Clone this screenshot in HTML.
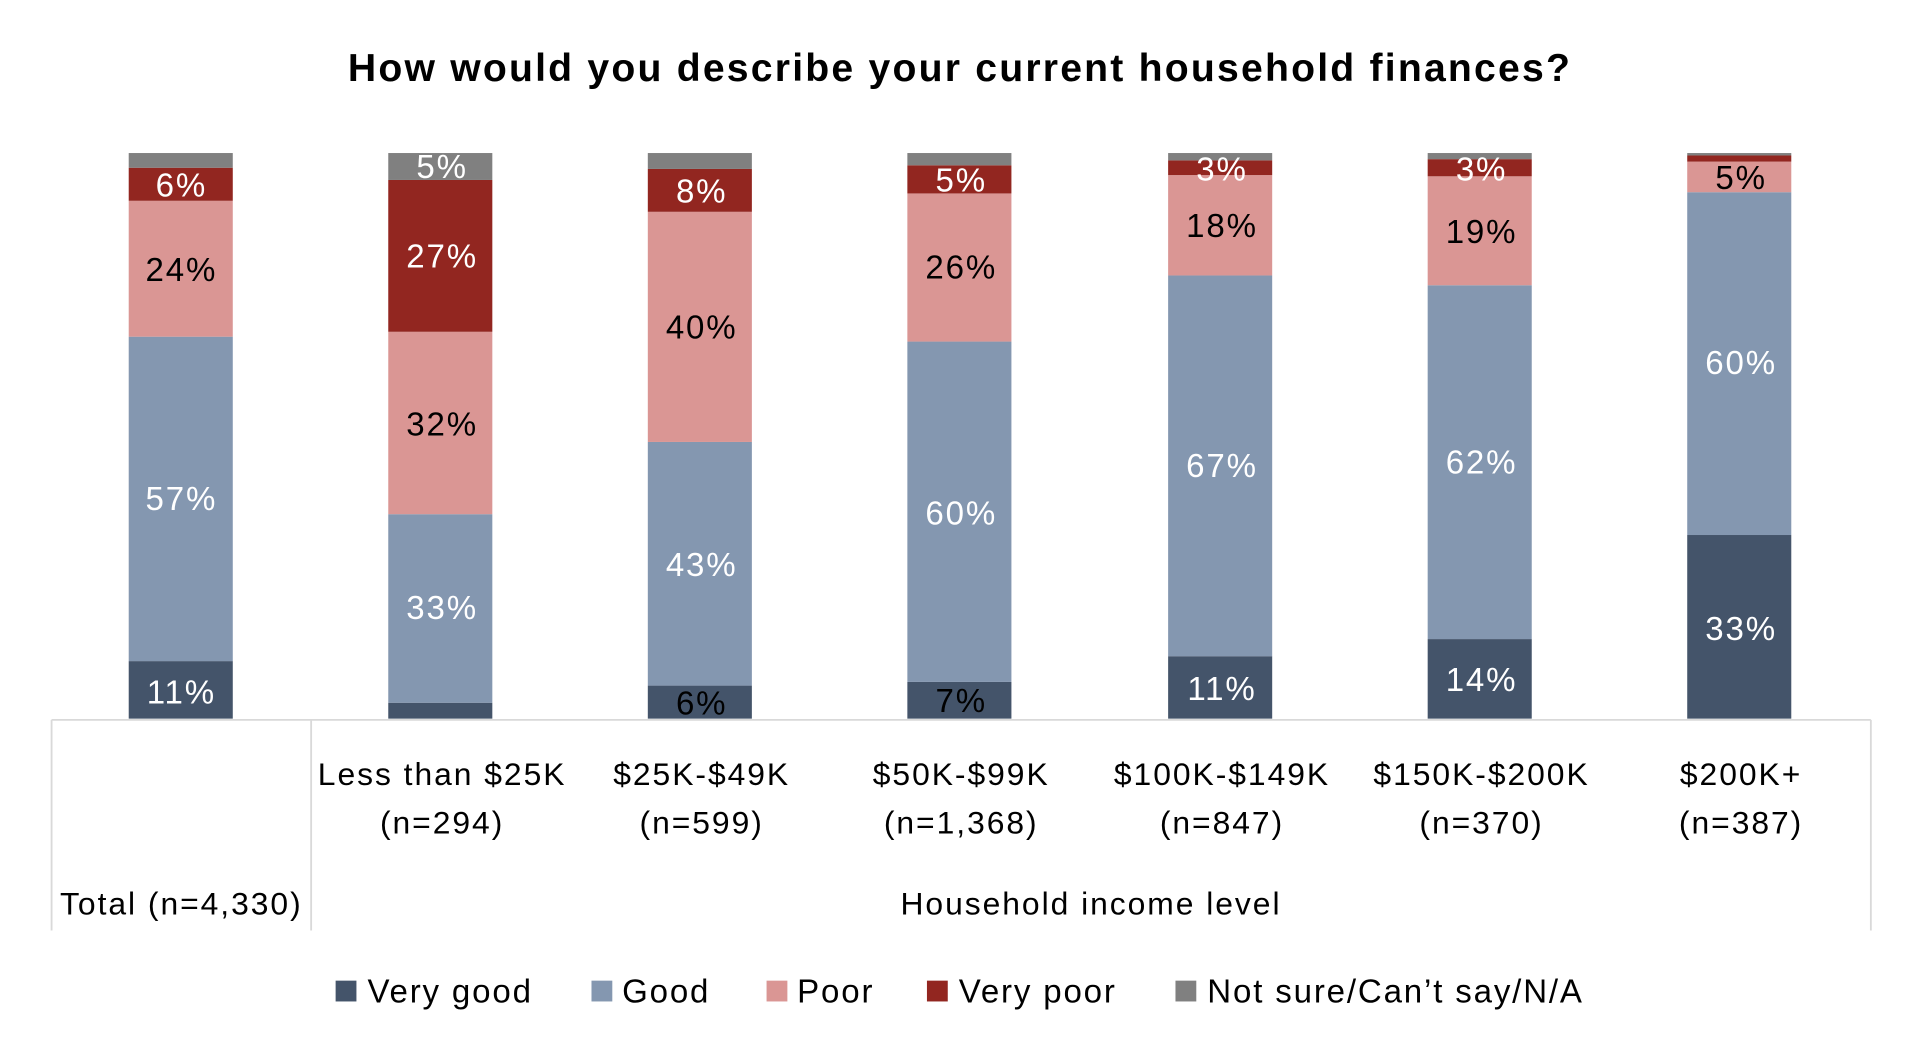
<!DOCTYPE html>
<html><head><meta charset="utf-8"><style>
html,body{margin:0;padding:0;background:#fff;}
svg{display:block;}
text{font-family:"Liberation Sans",sans-serif;}
</style></head><body>
<svg width="1920" height="1059" viewBox="0 0 1568 865" xmlns="http://www.w3.org/2000/svg">
<text x="784" y="66" text-anchor="middle" font-size="32" font-weight="bold" fill="#000" letter-spacing="1.8">How would you describe your current household finances?</text>
<g id="bars">
<rect x="105" y="540" width="85" height="47" fill="#44546A"/><rect x="105" y="275" width="85" height="265" fill="#8497B0"/><rect x="105" y="164" width="85" height="111" fill="#DA9694"/><rect x="105" y="137" width="85" height="27" fill="#922620"/><rect x="105" y="125" width="85" height="12" fill="#808080"/>
<rect x="317" y="574" width="85" height="13" fill="#44546A"/><rect x="317" y="420" width="85" height="154" fill="#8497B0"/><rect x="317" y="271" width="85" height="149" fill="#DA9694"/><rect x="317" y="147" width="85" height="124" fill="#922620"/><rect x="317" y="125" width="85" height="22" fill="#808080"/>
<rect x="529" y="560" width="85" height="27" fill="#44546A"/><rect x="529" y="361" width="85" height="199" fill="#8497B0"/><rect x="529" y="173" width="85" height="188" fill="#DA9694"/><rect x="529" y="138" width="85" height="35" fill="#922620"/><rect x="529" y="125" width="85" height="13" fill="#808080"/>
<rect x="741" y="557" width="85" height="30" fill="#44546A"/><rect x="741" y="279" width="85" height="278" fill="#8497B0"/><rect x="741" y="158" width="85" height="121" fill="#DA9694"/><rect x="741" y="135" width="85" height="23" fill="#922620"/><rect x="741" y="125" width="85" height="10" fill="#808080"/>
<rect x="954" y="536" width="85" height="51" fill="#44546A"/><rect x="954" y="225" width="85" height="311" fill="#8497B0"/><rect x="954" y="143" width="85" height="82" fill="#DA9694"/><rect x="954" y="131" width="85" height="12" fill="#922620"/><rect x="954" y="125" width="85" height="6" fill="#808080"/>
<rect x="1166" y="522" width="85" height="65" fill="#44546A"/><rect x="1166" y="233" width="85" height="289" fill="#8497B0"/><rect x="1166" y="144" width="85" height="89" fill="#DA9694"/><rect x="1166" y="130" width="85" height="14" fill="#922620"/><rect x="1166" y="125" width="85" height="5" fill="#808080"/>
<rect x="1378" y="437" width="85" height="150" fill="#44546A"/><rect x="1378" y="157" width="85" height="280" fill="#8497B0"/><rect x="1378" y="132" width="85" height="25" fill="#DA9694"/><rect x="1378" y="127" width="85" height="5" fill="#922620"/><rect x="1378" y="125" width="85" height="2" fill="#808080"/>
</g>
<g font-size="27" text-anchor="middle" dominant-baseline="central" letter-spacing="1.5">
<text x="148" y="152" fill="#fff">6%</text><text x="148" y="221" fill="#000">24%</text><text x="148" y="408" fill="#fff">57%</text><text x="148" y="566" fill="#fff">11%</text>
<text x="361" y="137" fill="#fff">5%</text><text x="361" y="210" fill="#fff">27%</text><text x="361" y="347" fill="#000">32%</text><text x="361" y="497" fill="#fff">33%</text>
<text x="573" y="157" fill="#fff">8%</text><text x="573" y="268" fill="#000">40%</text><text x="573" y="462" fill="#fff">43%</text><text x="573" y="575" fill="#000">6%</text>
<text x="785" y="148" fill="#fff">5%</text><text x="785" y="219" fill="#000">26%</text><text x="785" y="420" fill="#fff">60%</text><text x="785" y="573" fill="#000">7%</text>
<text x="998" y="139" fill="#fff">3%</text><text x="998" y="185" fill="#000">18%</text><text x="998" y="381" fill="#fff">67%</text><text x="998" y="563" fill="#fff">11%</text>
<text x="1210" y="139" fill="#fff">3%</text><text x="1210" y="190" fill="#000">19%</text><text x="1210" y="378" fill="#fff">62%</text><text x="1210" y="556" fill="#fff">14%</text>
<text x="1422" y="146" fill="#000">5%</text><text x="1422" y="297" fill="#fff">60%</text><text x="1422" y="514" fill="#fff">33%</text>
</g>
<g stroke="#d9d9d9" stroke-width="1.5" fill="none">
<line x1="42" y1="588" x2="1528" y2="588"/>
<line x1="42" y1="588" x2="42" y2="760"/>
<line x1="254" y1="588" x2="254" y2="760"/>
<line x1="1528" y1="588" x2="1528" y2="760"/>
</g>
<g font-size="26" text-anchor="middle" fill="#000" letter-spacing="1.6">
<text x="361" y="641">Less than $25K</text><text x="361" y="681">(n=294)</text>
<text x="573" y="641">$25K-$49K</text><text x="573" y="681">(n=599)</text>
<text x="785" y="641">$50K-$99K</text><text x="785" y="681">(n=1,368)</text>
<text x="998" y="641">$100K-$149K</text><text x="998" y="681">(n=847)</text>
<text x="1210" y="641">$150K-$200K</text><text x="1210" y="681">(n=370)</text>
<text x="1422" y="641">$200K+</text><text x="1422" y="681">(n=387)</text>
<text x="148" y="747">Total (n=4,330)</text>
<text x="891" y="747">Household income level</text>
</g>
<g font-size="27" fill="#000" letter-spacing="1.5">
<rect x="274" y="801" width="17" height="17" fill="#44546A"/><text x="300" y="819">Very good</text>
<rect x="483" y="801" width="17" height="17" fill="#8497B0"/><text x="508" y="819">Good</text>
<rect x="626" y="801" width="17" height="17" fill="#DA9694"/><text x="651" y="819">Poor</text>
<rect x="757" y="801" width="17" height="17" fill="#922620"/><text x="783" y="819">Very poor</text>
<rect x="960" y="801" width="17" height="17" fill="#808080"/><text x="986" y="819">Not sure/Can’t say/N/A</text>
</g>
</svg>
</body></html>
